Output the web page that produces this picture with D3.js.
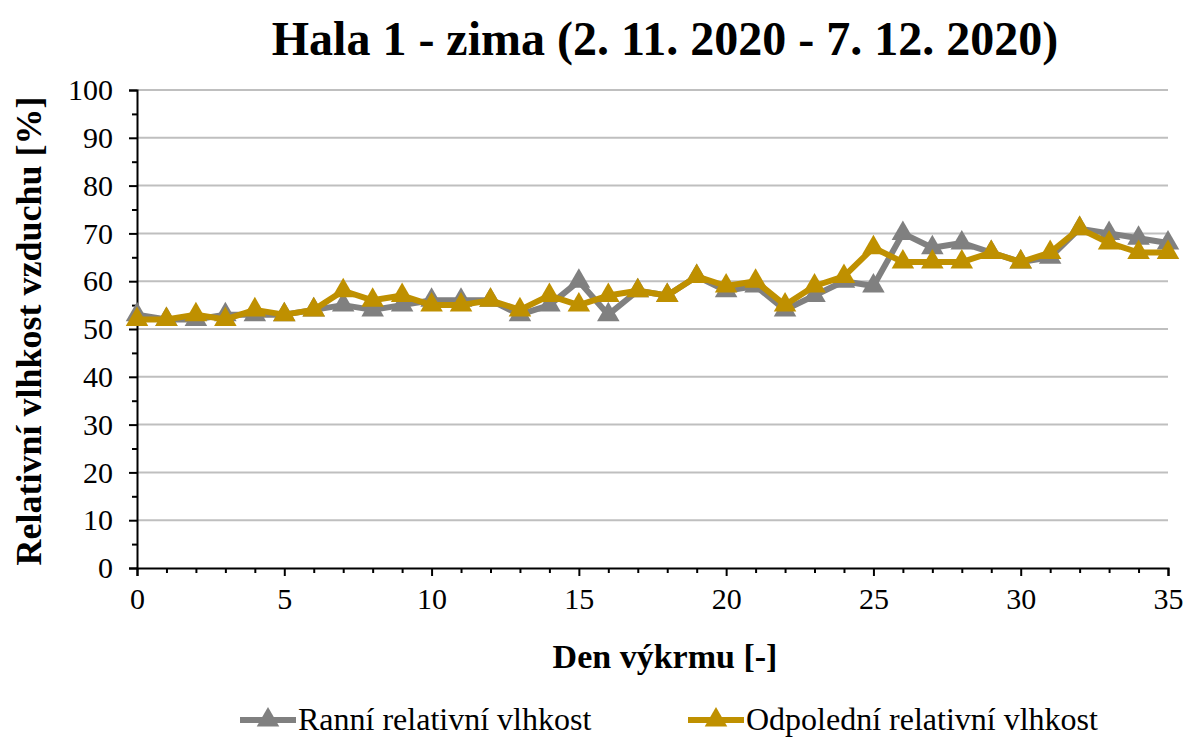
<!DOCTYPE html>
<html><head><meta charset="utf-8">
<script src="https://cdn.jsdelivr.net/npm/d3@7"></script>
<style>body{margin:0;background:#fff;} svg{display:block;}</style>
</head><body>
<script>
const days = d3.range(0, 36);
const ranni = [53,52,52,53,53,53,54,55,54,55,56,56,56,53,55,60,53,58,57,61,58,59,54,57,60,59,70,67,68,66,64,65,71,70,69,68];
const odpoledni = [52,52,53,52,54,53,54,58,56,57,55,55,56,54,57,55,57,58,57,61,59,60,55,59,61,67,64,64,64,66,64,66,71,68,66,66];
const yTicks = [0,10,20,30,40,50,60,70,80,90,100];
const xTicks = [0,5,10,15,20,25,30,35];
const seriesNames = ["Ranní relativní vlhkost","Odpolední relativní vlhkost"];
const colors = ["#808080","#BF9000"];
const FF = '"Liberation Serif"';

const W=1187,H=737;
const svg=d3.select("body").append("svg").attr("width",W).attr("height",H);
const x=d3.scaleLinear().domain([0,35]).range([137,1168]);
const y=d3.scaleLinear().domain([0,100]).range([568,90]);

// grid
svg.append("g").selectAll("line").data(yTicks.filter(d=>d>0)).join("line")
 .attr("x1",137).attr("x2",1168).attr("y1",d=>y(d)).attr("y2",d=>y(d))
 .attr("stroke","#BFBFBF").attr("stroke-width",2);

// y axis
const ya=svg.append("g").attr("transform","translate(137,0)")
 .call(d3.axisLeft(y).tickValues(yTicks).tickSize(8).tickPadding(16));
ya.selectAll("text").style("font-family",FF).style("font-size","30px").attr("fill","#000");
svg.append("g").attr("transform","translate(137,0)")
 .call(d3.axisLeft(y).tickValues(d3.range(5,100,10)).tickSize(5).tickFormat(""))
 .select(".domain").remove();
// x axis
const xa=svg.append("g").attr("transform","translate(0,568)")
 .call(d3.axisBottom(x).tickValues(xTicks).tickSize(8).tickPadding(12));
xa.selectAll("text").style("font-family",FF).style("font-size","30px").attr("fill","#000");
svg.append("g").attr("transform","translate(0,568)")
 .call(d3.axisBottom(x).tickValues(days.filter(d=>d%5)).tickSize(5).tickFormat(""))
 .select(".domain").remove();
svg.selectAll(".domain, .tick line").attr("stroke","#000").attr("stroke-width",2);

const tri=d3.symbol().type(d3.symbolTriangle).size(220);
[ranni,odpoledni].forEach((s,i)=>{
  const g=svg.append("g");
  g.append("path").datum(s).attr("fill","none").attr("stroke",colors[i]).attr("stroke-width",6)
   .attr("stroke-linejoin","round")
   .attr("d",d3.line().x((d,j)=>x(days[j])).y(d=>y(d)));
  g.selectAll("path.m").data(s).join("path").attr("class","m")
   .attr("d",tri).attr("fill",colors[i])
   .attr("transform",(d,j)=>`translate(${x(days[j])},${y(d)})`);
});

// titles
svg.append("text").attr("x",665).attr("y",55).attr("text-anchor","middle")
 .style("font-family",FF).style("font-weight","bold").style("font-size","48px").text("Hala 1 - zima (2. 11. 2020 - 7. 12. 2020)");
svg.append("text").attr("x",665).attr("y",668).attr("text-anchor","middle")
 .style("font-family",FF).style("font-weight","bold").style("font-size","34px").text("Den výkrmu [-]");
svg.append("text").attr("transform","translate(41,331) rotate(-90)").attr("text-anchor","middle")
 .style("font-family",FF).style("font-weight","bold").style("font-size","36px").text("Relativní vlhkost vzduchu [%]");

// legend
const leg=[{x0:240,tx:298},{x0:688,tx:746}];
leg.forEach((l,i)=>{
  const g=svg.append("g");
  g.append("line").attr("x1",l.x0).attr("x2",l.x0+56).attr("y1",720).attr("y2",720)
   .attr("stroke",colors[i]).attr("stroke-width",6);
  g.append("path").attr("d",tri).attr("fill",colors[i]).attr("transform",`translate(${l.x0+28},720)`);
  g.append("text").attr("x",l.tx).attr("y",730).style("font-family",FF).style("font-size","32px")
   .text(seriesNames[i]);
});
</script>
</body></html>
